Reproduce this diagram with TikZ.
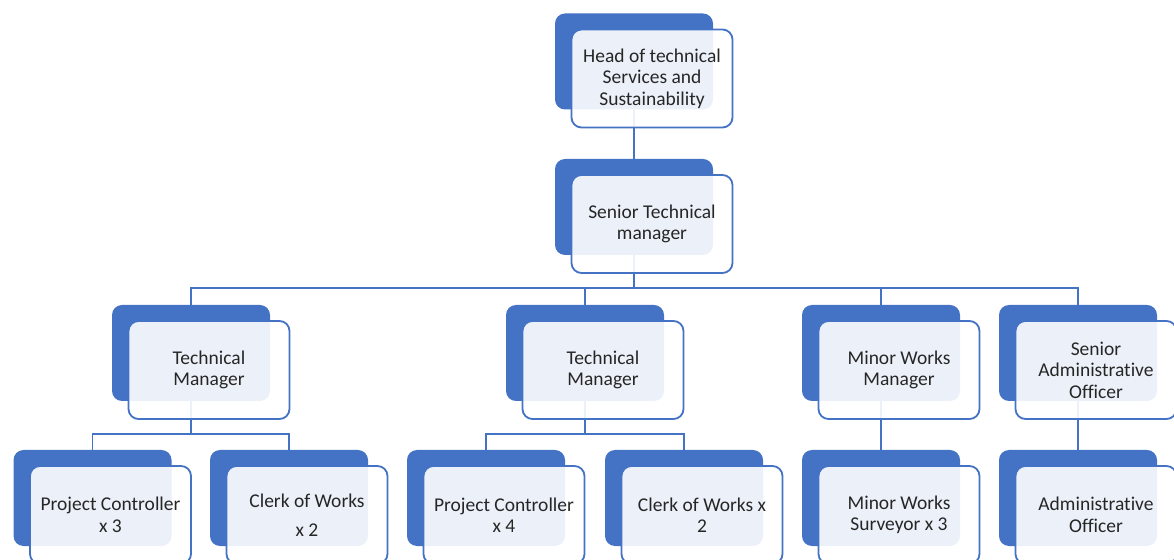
\documentclass[tikz,border=0pt]{standalone}
\usepackage{fontspec}
\setmainfont{Carlito}[Ligatures=NoCommon]
\usetikzlibrary{backgrounds}
\definecolor{OrgChartBlue}{RGB}{68,114,196}
\definecolor{OrgChartText}{RGB}{38,38,38}

\begin{document}
\begin{tikzpicture}[x=1pt,y=1pt,
  back/.style={fill=OrgChartBlue,minimum width=158pt,minimum height=96pt,rounded corners=10pt,rectangle},
  front/.style={draw=OrgChartBlue,line width=1.8pt,fill=white,fill opacity=0.9,text opacity=1,text=OrgChartText,
    minimum width=161pt,minimum height=98pt,rounded corners=10pt,rectangle,align=center,
    font=\fontsize{19.5}{21.5}\selectfont},
  link/.style={OrgChartBlue,line width=1.6pt}]
    \useasboundingbox (0,0) rectangle (1174,559);
    \foreach \n/\x/\y/\lbl in %
    {h/634/497.5/{Head of technical\\Services and\\Sustainability},
     s/634/352/{Senior Technical\\manager},
     ta/191/206/{Technical\\Manager},
     tb/585/206/{Technical\\Manager},
     mw/881/206/{Minor Works\\Manager},
     sa/1078/206/{Senior\\Administrative\\Officer},
     pa/92.5/61/{Project Controller\\x 3},
     ca/289/61/{Clerk of Works\\[8pt]x 2},
     pb/486/61/{Project Controller\\x 4},
     cb/684/61/{Clerk of Works x\\2},
     ms/881/61/{Minor Works\\Surveyor x 3},
     ao/1078/61/{Administrative\\Officer}} {
       \node[back](b\n) at (\x,\y) {};
       \node[front](f\n) at ([shift={(18,-17)}]b\n) {\lbl};
    }
    \begin{pgfonlayer}{background}
       \draw[link] (bh) -- (bs);
       \coordinate (sbus) at ([yshift=-33pt]bs.south);
       \draw[link] (bs.south) -- (sbus);
       \foreach \m in {ta,tb,mw,sa} {
          \draw[link] (sbus) -| (b\m.north);
       }
       \coordinate (tabus) at ([yshift=-33pt]bta.south);
       \coordinate (tbbus) at ([yshift=-33pt]btb.south);
       \draw[link] (bta.south) -- (tabus) -| (bpa.north);
       \draw[link] (tabus) -| (bca.north);
       \draw[link] (btb.south) -- (tbbus) -| (bpb.north);
       \draw[link] (tbbus) -| (bcb.north);
       \draw[link] (bmw) -- (bms);
       \draw[link] (bsa) -- (bao);
    \end{pgfonlayer}
\end{tikzpicture}
\end{document}
